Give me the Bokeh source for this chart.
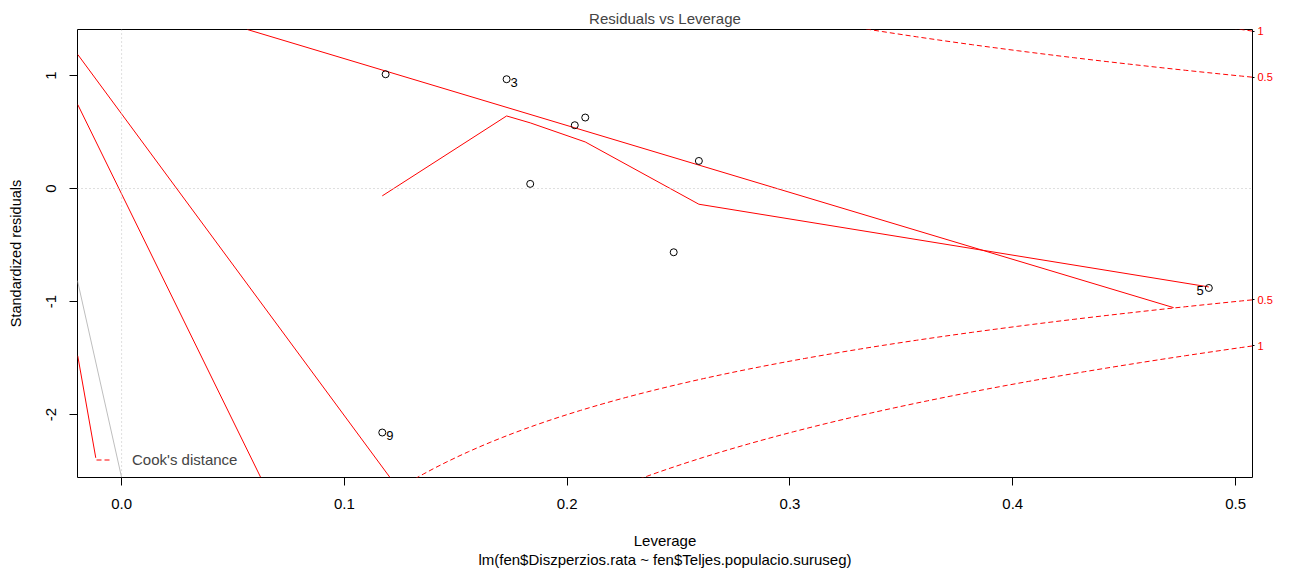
import numpy as np
from bokeh.plotting import figure
from bokeh.models import (Range1d, FixedTicker, PrintfTickFormatter, LinearAxis,
                          CustomJSTickFormatter, Span, Label, Title, Legend, LegendItem)
from bokeh.embed import file_html
from bokeh.resources import INLINE

# observations: leverage (hat values) and standardized residuals
obs_id = [1, 2, 3, 4, 5, 6, 7, 8, 9]
leverage = [0.1185, 0.2034, 0.1728, 0.2081, 0.4880, 0.1834, 0.2591, 0.2478, 0.1170]
std_resid = [1.011, 0.560, 0.967, 0.628, -0.880, 0.041, 0.244, -0.564, -2.159]

# observations flagged with their index
flagged = [3, 5, 9]

# lowess smoother through the residuals
smooth_lev = [0.1170, 0.1728, 0.1834, 0.2081, 0.2591, 0.4880]
smooth_res = [-0.065, 0.642, 0.581, 0.412, -0.139, -0.871]

# additional straight red segments drawn over the panel
seg_x0 = [0.0564, -0.0197, -0.0197, -0.0197]
seg_y0 = [1.407, 1.186, 0.743, -1.480]
seg_x1 = [0.4722, 0.1204, 0.0624, -0.0116]
seg_y1 = [-1.054, -2.555, -2.555, -2.383]
# and one grey one
grey_x = [-0.0198, 0.0]
grey_y = [-0.816, -2.557]

# Cook's distance contour levels, number of model parameters
cook_levels = [0.5, 1.0]
n_param = 2

x_ticks = [0.0, 0.1, 0.2, 0.3, 0.4, 0.5]
y_ticks = [-2, -1, 0, 1]

x_lo, x_hi = -0.0198, 0.5076
y_lo, y_hi = -2.557, 1.407

FONT = "Liberation Sans"
RED = "#FF0000"
TXT = "15px"

p = figure(width=1289, height=572, output_backend="svg", toolbar_location=None,
           x_range=Range1d(x_lo, x_hi), y_range=Range1d(y_lo, y_hi),
           min_border_left=77, min_border_right=37, min_border_top=29,
           min_border_bottom=95)
p.background_fill_color = "white"
p.border_fill_color = "white"
p.outline_line_color = "black"
p.outline_line_width = 1
p.grid.visible = False

# title
p.title.text = "Residuals vs Leverage"
p.title.align = "center"
p.title.text_font = FONT
p.title.text_font_size = TXT
p.title.text_font_style = "normal"
p.title.standoff = 5

# axes
for ax in (p.xaxis[0], p.yaxis[0]):
    ax.axis_line_color = None
    ax.major_tick_out = 8
    ax.major_tick_in = 0
    ax.minor_tick_line_color = None
    ax.major_tick_line_color = "black"
    ax.major_label_text_font = FONT
    ax.major_label_text_font_size = TXT
    ax.major_label_text_color = "black"
    ax.axis_label_text_font = FONT
    ax.axis_label_text_font_size = TXT
    ax.axis_label_text_font_style = "normal"
    ax.axis_label_text_color = "black"

p.xaxis.ticker = FixedTicker(ticks=x_ticks)
p.xaxis.formatter = PrintfTickFormatter(format="%.1f")
p.xaxis.major_label_standoff = 13
p.xaxis.axis_label = "Leverage"
p.xaxis.axis_label_standoff = 20

p.yaxis.ticker = FixedTicker(ticks=y_ticks)
p.yaxis.formatter = PrintfTickFormatter(format="%d")
p.yaxis.major_label_orientation = "vertical"
p.yaxis.major_label_standoff = 13
p.yaxis.axis_label = "Standardized residuals"
p.yaxis.axis_label_text_font_size = "14.5px"
p.yaxis.axis_label_standoff = 20

# model formula under the axis title
sub = Title(text="lm(fen$Diszperzios.rata ~ fen$Teljes.populacio.suruseg)",
            align="center", text_font=FONT, text_font_size=TXT,
            text_font_style="normal", text_color="black", standoff=-6)
p.add_layout(sub, "below")

# reference lines through zero
p.add_layout(Span(location=0, dimension="width", line_color="#BEBEBE",
                  line_dash="1 3", line_width=1))
p.add_layout(Span(location=0, dimension="height", line_color="#BEBEBE",
                  line_dash="1 3", line_width=1))

# extra segments
p.segment(seg_x0, seg_y0, seg_x1, seg_y1, line_color=RED, line_width=1)
p.line(grey_x, grey_y, line_color="#BEBEBE", line_width=1)

# Cook's distance contours: std.res = +/- sqrt(level * p * (1 - h) / h)
hh = np.linspace(min(min(leverage), max(leverage) / 100), x_hi, 101)
cook_renderers = []
for lvl in cook_levels:
    cl = np.sqrt(lvl * n_param * (1 - hh) / hh)
    r1 = p.line(hh, cl, line_color=RED, line_dash="5 3", line_width=1)
    p.line(hh, -cl, line_color=RED, line_dash="5 3", line_width=1)
    cook_renderers.append(r1)

# smoother
p.line(smooth_lev, smooth_res, line_color=RED, line_width=1)

# points
p.scatter(leverage, std_resid, marker="circle", size=7, fill_color=None,
          line_color="black", line_width=1)

# index labels: right of the point on the left half, left of it on the right half
mid = (min(leverage) + max(leverage)) / 2
for oid in flagged:
    i = obs_id.index(oid)
    right_side = leverage[i] > mid
    p.add_layout(Label(x=leverage[i], y=std_resid[i], text=str(oid),
                       x_offset=-5 if right_side else 4, y_offset=-3,
                       text_align="right" if right_side else "left",
                       text_baseline="middle", text_font=FONT,
                       text_font_size="13px", text_color="black"))

# contour level labels on the right margin
contour_ticks = sorted([s * np.sqrt(l * n_param * (1 - x_hi) / x_hi)
                        for l in cook_levels for s in (-1, 1)])
rax = LinearAxis(ticker=FixedTicker(ticks=contour_ticks),
                 formatter=CustomJSTickFormatter(
                     args=dict(h=x_hi, k=n_param),
                     code="const v = tick*tick*h/(k*(1-h)); return String(Math.round(v*100)/100);"))
rax.axis_line_color = None
rax.major_tick_out = 2
rax.major_tick_in = 0
rax.minor_tick_line_color = None
rax.major_label_standoff = 3
rax.major_label_text_font = FONT
rax.major_label_text_font_size = "11px"
rax.major_label_text_color = RED
rax.major_label_orientation = "horizontal"
p.add_layout(rax, "right")

# legend
leg = Legend(items=[LegendItem(label="Cook's distance", renderers=[cook_renderers[0]])],
             location=(19, 9), border_line_color=None, background_fill_alpha=0,
             padding=0, margin=0, glyph_width=15, glyph_height=15, label_standoff=21,
             label_text_font=FONT, label_text_font_size=TXT)
p.add_layout(leg, "center")

open("out.html", "w").write(file_html(p, INLINE))
